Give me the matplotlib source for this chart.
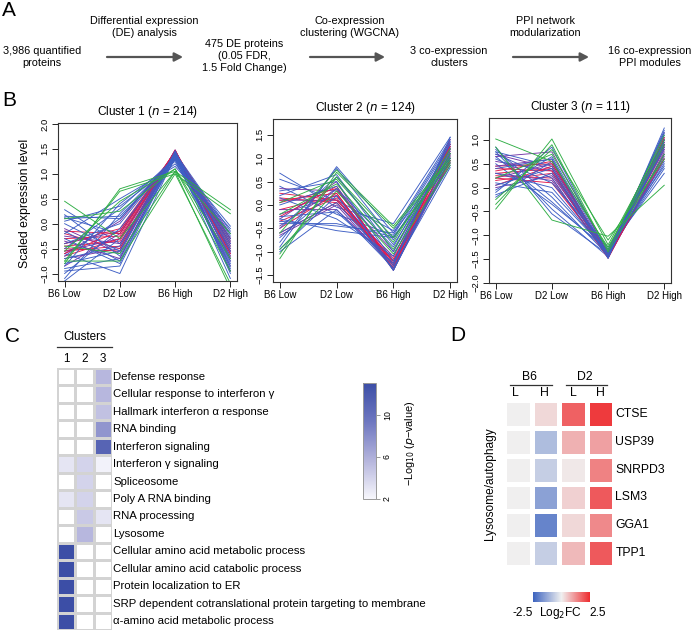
import numpy as np
import matplotlib
matplotlib.use("Agg")
import matplotlib.pyplot as plt
from matplotlib.colors import LinearSegmentedColormap, Normalize
from matplotlib.cm import ScalarMappable
from matplotlib.patches import FancyArrowPatch
from matplotlib.lines import Line2D

plt.rcParams['font.family'] = ['Liberation Sans', 'DejaVu Sans']

W, H = 696, 632

# ---------------- DATA ----------------
flow_steps = ["3,986 quantified\nproteins", "475 DE proteins\n(0.05 FDR,\n1.5 Fold Change)",
              "3 co-expression\nclusters", "16 co-expression\nPPI modules"]
flow_arrows = ["Differential expression\n(DE) analysis", "Co-expression\nclustering (WGCNA)",
               "PPI network\nmodularization"]

conditions = ["B6 Low", "D2 Low", "B6 High", "D2 High"]
cluster_titles = ["1", "2", "3"]
cluster_n = [214, 124, 111]

c1_green = [[-0.80, 0.70, 1.05, 0.28], [-0.75, 0.65, 1.00, 0.20], [-0.55, 0.45, 1.10, -0.95],
            [0.45, -0.30, 1.05, -1.30], [-0.75, -0.75, 1.00, -1.20], [0.10, 0.25, 1.10, -0.70],
            [-0.45, -0.60, 1.05, -0.20]]
c1_blue = [[0.28, -0.40, 1.30, -0.50], [0.15, 0.10, 1.35, -0.30], [0.12, -0.20, 1.45, -0.90],
           [-1.15, -0.30, 1.40, -0.60], [-1.10, 0.20, 1.30, -0.40], [-0.60, -1.00, 1.35, -0.80],
           [-0.90, -0.70, 1.45, -1.00], [0.05, 0.35, 1.20, -0.20], [-0.20, 0.50, 1.15, -0.10],
           [-0.95, -0.85, 1.40, -0.95], [0.00, -0.55, 1.45, -0.70], [-0.40, 0.00, 1.38, -0.35],
           [-0.70, -0.45, 1.42, -0.15], [0.18, -0.65, 1.30, -0.05], [-0.85, 0.40, 1.25, -0.75],
           [-0.30, -0.80, 1.45, -0.55], [-1.00, -0.10, 1.35, -1.10], [0.10, 0.15, 1.28, -0.85],
           [-0.50, 0.30, 1.32, -0.45], [-0.15, -0.75, 1.40, -0.25], [-0.65, 0.10, 1.30, -0.65],
           [-0.80, -0.55, 1.38, -0.30]]
c1_purple = [[-0.55, -0.30, 1.45, -0.60], [-0.40, -0.15, 1.42, -0.40], [-0.70, -0.50, 1.48, -0.75],
             [-0.25, -0.40, 1.40, -0.30], [-0.85, -0.20, 1.45, -0.85], [-0.10, -0.60, 1.45, -0.55],
             [-0.60, 0.05, 1.40, -0.20], [-0.35, -0.70, 1.47, -0.95]]
c1_red = [[-0.45, -0.35, 1.45, -0.50], [-0.30, -0.25, 1.43, -0.40], [-0.55, -0.45, 1.48, -0.65],
          [-0.20, -0.50, 1.46, -0.45], [-0.65, -0.30, 1.44, -0.55], [-0.40, -0.10, 1.42, -0.35],
          [-0.50, -0.55, 1.47, -0.70], [-0.15, -0.20, 1.44, -0.30], [-0.60, -0.15, 1.45, -0.60]]

c2_green = [[-1.15, 0.70, -0.50, 0.95], [-1.05, 0.60, -0.70, 0.90], [-0.60, 0.75, -0.45, 1.00],
            [-0.20, 0.45, -0.95, 1.10], [-0.95, 0.30, -1.05, 0.85], [0.05, 0.55, -0.80, 1.20]]
c2_blue = [[0.68, -0.05, -0.40, 1.45], [0.55, 0.10, -0.55, 1.40], [0.40, -0.20, -0.65, 1.30],
           [-0.90, 0.82, -0.60, 1.35], [-0.80, 0.78, -0.75, 1.25], [-0.35, -0.45, -0.60, 1.00],
           [-0.30, -0.55, -0.70, 0.95], [-0.40, -0.40, -0.68, 0.90], [-0.95, 0.20, -1.40, 1.10],
           [0.30, 0.50, -1.20, 0.85], [-0.60, 0.05, -1.30, 1.45], [0.15, -0.30, -1.10, 1.20],
           [-1.00, -0.10, -1.35, 0.80], [0.20, 0.65, -1.00, 1.15], [-0.70, 0.35, -0.90, 1.30],
           [-0.25, -0.15, -1.25, 1.35], [0.00, 0.40, -1.40, 1.00], [-0.50, 0.60, -0.85, 1.05]]
c2_purple = [[-0.20, 0.20, -1.20, 1.20], [-0.45, 0.35, -1.30, 1.10], [0.10, 0.10, -1.10, 1.25],
             [-0.65, 0.00, -1.35, 1.00], [0.35, 0.30, -1.00, 1.30], [-0.30, 0.50, -1.40, 0.95],
             [-0.10, -0.10, -1.25, 1.40]]
c2_red = [[-0.10, 0.20, -1.30, 1.10], [0.15, 0.05, -1.20, 1.20], [-0.35, 0.15, -1.35, 1.00],
          [0.05, 0.35, -1.25, 0.90], [-0.50, 0.25, -1.40, 1.15], [0.25, 0.10, -1.15, 1.05],
          [-0.25, 0.40, -1.30, 1.25], [-0.60, 0.05, -1.20, 0.95], [0.10, 0.25, -1.35, 1.30]]

c3_green = [[1.02, 0.55, -1.25, 0.90], [-0.45, 1.02, -1.20, 1.00], [0.85, -0.68, -1.02, 0.05],
            [-0.35, 0.90, -1.35, 0.70], [-0.25, 0.80, -1.10, 0.60], [0.20, 0.70, -1.30, 1.10]]
c3_blue = [[0.85, -0.55, -1.40, 0.50], [0.75, -0.45, -1.45, 0.60], [0.65, -0.30, -1.35, 0.40],
           [0.80, -0.20, -1.42, 0.70], [0.50, -0.35, -1.30, 0.30], [-0.20, 0.55, -1.45, 1.20],
           [-0.10, 0.85, -1.40, 1.15], [0.05, 0.40, -1.48, 1.25], [0.30, 0.00, -1.38, 0.90],
           [0.70, 0.20, -1.45, 1.00], [-0.15, 0.30, -1.30, 0.80], [0.60, 0.10, -1.25, 0.45],
           [0.40, 0.60, -1.48, 1.10], [0.10, -0.10, -1.35, 0.55], [0.75, 0.45, -1.42, 0.85],
           [-0.05, 0.65, -1.40, 0.95]]
c3_purple = [[0.55, 0.35, -1.45, 0.90], [0.20, 0.50, -1.40, 1.05], [0.70, 0.40, -1.48, 0.75],
             [0.00, 0.25, -1.35, 1.15], [0.45, 0.60, -1.45, 0.65], [0.30, 0.15, -1.42, 1.00],
             [0.65, 0.75, -1.38, 0.85]]
c3_red = [[0.30, 0.40, -1.42, 0.90], [0.15, 0.30, -1.45, 1.00], [0.45, 0.50, -1.40, 0.80],
          [0.25, 0.20, -1.48, 0.70], [0.05, 0.45, -1.38, 0.95], [0.40, 0.35, -1.45, 1.05],
          [0.35, 0.55, -1.43, 0.60], [0.20, 0.10, -1.40, 0.85]]

cluster_ylims = [(-1.15, 2.02), (-1.65, 1.84), (-2.0, 1.46)]
cluster_yticks = [[-1.0, -0.5, 0.0, 0.5, 1.0, 1.5, 2.0],
                  [-1.5, -1.0, -0.5, 0.0, 0.5, 1.0, 1.5],
                  [-2.0, -1.5, -1.0, -0.5, 0.0, 0.5, 1.0]]

terms = ["Defense response", "Cellular response to interferon \u03b3", "Hallmark interferon \u03b1 response",
         "RNA binding", "Interferon signaling", "Interferon \u03b3 signaling", "Spliceosome",
         "Poly A RNA binding", "RNA processing", "Lysosome",
         "Cellular amino acid metabolic process", "Cellular amino acid catabolic process",
         "Protein localization to ER", "SRP dependent cotranslational protein targeting to membrane",
         "\u03b1-amino acid metabolic process"]
enrich_c1 = [np.nan, np.nan, np.nan, np.nan, np.nan, 3.0, np.nan, 3.0, np.nan, np.nan, 13.0, 13.0, 13.0, 13.0, 13.0]
enrich_c2 = [np.nan, np.nan, np.nan, np.nan, np.nan, 4.0, 4.0, 4.0, 4.5, 5.5, np.nan, np.nan, np.nan, np.nan, np.nan]
enrich_c3 = [5.5, 5.5, 5.0, 7.5, 11.0, 2.3, np.nan, np.nan, 3.0, np.nan, np.nan, np.nan, np.nan, np.nan, np.nan]

genes = ["CTSE", "USP39", "SNRPD3", "LSM3", "GGA1", "TPP1"]
fc_b6_low = [0.0, 0.0, 0.0, 0.0, 0.0, 0.0]
fc_b6_high = [0.3, -0.9, -0.6, -1.4, -1.9, -0.6]
fc_d2_low = [1.8, 0.8, 0.1, 0.4, 0.3, 0.7]
fc_d2_high = [2.3, 1.0, 1.4, 1.9, 1.3, 1.9]

# ---------------- helpers ----------------
fig = plt.figure(figsize=(W / 100, H / 100), dpi=100)


def fx(x):
    return x / W


def fy(y):
    return 1 - y / H


def rect(x0, y0, x1, y1):
    return [x0 / W, 1 - y1 / H, (x1 - x0) / W, (y1 - y0) / H]


def ftext(x, y, s, **kw):
    kw.setdefault('ha', 'center')
    kw.setdefault('va', 'center')
    fig.text(fx(x), fy(y), s, **kw)


# ---------------- Panel A ----------------
ftext(9, 10, "A", fontsize=15)
step_x = [42, 244, 449, 650]
step_y = [57, 56, 57, 57]
for s, x, y in zip(flow_steps, step_x, step_y):
    ftext(x, y, s, fontsize=7.8, linespacing=1.2)
arrow_x = [(107, 183), (310, 385), (513, 589)]
arrow_lab_x = [144, 350, 545]
for (x0, x1), lx, lab in zip(arrow_x, arrow_lab_x, flow_arrows):
    ar = FancyArrowPatch((fx(x0), fy(57)), (fx(x1), fy(57)), transform=fig.transFigure,
                         arrowstyle='-|>,head_length=5,head_width=2.6', color='#555555', lw=1.6,
                         shrinkA=0, shrinkB=0)
    fig.patches.append(ar)
    ftext(lx, 27.5, lab, fontsize=7.8, linespacing=1.25)

# ---------------- Panel B ----------------
ftext(9, 101, "B", fontsize=15)
ax_rects = [(58, 123, 237, 281), (273, 119, 457, 282), (489, 118, 671, 283)]
col_green, col_blue, col_purple, col_red = '#2fae45', '#3d5ec4', '#7334a6', '#e3194b'
cluster_groups = [(c1_green, c1_blue, c1_purple, c1_red),
                  (c2_green, c2_blue, c2_purple, c2_red),
                  (c3_green, c3_blue, c3_purple, c3_red)]
xs = np.arange(1, 5)
for i, (r, groups) in enumerate(zip(ax_rects, cluster_groups)):
    ax = fig.add_axes(rect(*r))
    g, b, p, rd = groups
    # interleave colours (round robin) so no colour forms a solid band on top
    seq = []
    n = max(len(b), len(p), len(rd), len(g))
    for k in range(n):
        for lst, c in ((b, col_blue), (rd, col_red), (p, col_purple), (b, col_blue)):
            pass
        if k < len(rd):
            seq.append((rd[k], col_red))
        if k < len(b):
            seq.append((b[k], col_blue))
        if k < len(p):
            seq.append((p[k], col_purple))
    for prof, c in seq:
        ax.plot(xs, prof, color=c, lw=0.65)
    for prof in g:
        ax.plot(xs, prof, color=col_green, lw=0.65)
    ax.set_xlim(0.88, 4.12)
    ax.set_ylim(*cluster_ylims[i])
    ax.set_xticks(xs)
    ax.set_xticklabels(conditions, fontsize=7)
    ax.set_yticks(cluster_yticks[i])
    ax.set_yticklabels([f"{v:.1f}".replace('-', '\u2212') for v in cluster_yticks[i]],
                       fontsize=6.8, rotation=90, va='center')
    ax.tick_params(length=4, width=0.6, pad=2)
    for sp in ax.spines.values():
        sp.set_linewidth(0.8)
        sp.set_color('#333333')
    ax.set_title(f"Cluster {cluster_titles[i]} ($\\it{{n}}$ = {cluster_n[i]})", fontsize=8.6, pad=6)
ftext(25, 203, "Scaled expression level", fontsize=8.8, rotation=90)

# ---------------- Panel C ----------------
ftext(12, 337, "C", fontsize=15)
cmapC = LinearSegmentedColormap.from_list('c', ['#f7f7fc', '#b4b4dc', '#6e77c0', '#3c4ea6'])
cmapC.set_bad('white')
axC = fig.add_axes(rect(57, 368, 112, 630))
M = np.array([enrich_c1, enrich_c2, enrich_c3]).T
axC.pcolormesh(np.ma.masked_invalid(M), cmap=cmapC, vmin=2, vmax=13, edgecolors='#d3d3d3', linewidth=0.9)
axC.set_xlim(0, 3)
axC.set_ylim(len(terms), 0)
axC.axis('off')
for k, t in enumerate(terms):
    axC.text(3.08, k + 0.5, t, fontsize=8.2, va='center', ha='left')
ftext(84.5, 337, "Clusters", fontsize=8.4)
fig.add_artist(Line2D([fx(57), fx(112)], [fy(347), fy(347)], color='#333333', lw=0.9))
for k, cx in enumerate([66, 84.5, 102.5]):
    ftext(cx, 359, str(k + 1), fontsize=8.4)

caxC = fig.add_axes(rect(363, 383, 376, 499))
cbC = fig.colorbar(ScalarMappable(Normalize(2, 13), cmapC), cax=caxC)
cbC.set_ticks([2, 6, 10])
cbC.ax.set_yticklabels(['2', '6', '10'], rotation=90, va='center', fontsize=6.3)
cbC.ax.tick_params(length=3, width=0.6, pad=2, color='#888888')
cbC.outline.set_edgecolor('#999999')
cbC.outline.set_linewidth(0.7)
ftext(410, 443, "\u2212Log$_{10}$ ($\\it{p}$\u2212value)", fontsize=7.8, rotation=90)

# ---------------- Panel D ----------------
ftext(458, 335, "D", fontsize=15)
cmapD = LinearSegmentedColormap.from_list('d', ['#3c63bf', '#f0f0f0', '#ee2b2e'])
axD = fig.add_axes(rect(504, 400, 614, 567))
FC = np.array([fc_b6_low, fc_b6_high, fc_d2_low, fc_d2_high]).T
axD.pcolormesh(FC, cmap=cmapD, vmin=-2.5, vmax=2.5, edgecolors='white', linewidth=2.2)
axD.set_xlim(0, 4)
axD.set_ylim(len(genes), 0)
axD.axis('off')
for k, gname in enumerate(genes):
    axD.text(4.05, k + 0.5, gname, fontsize=8.8, va='center', ha='left')
ftext(529, 377, "B6", fontsize=8.8)
ftext(585, 377, "D2", fontsize=8.8)
fig.add_artist(Line2D([fx(510), fx(552)], [fy(385), fy(385)], color='#333333', lw=0.9))
fig.add_artist(Line2D([fx(566), fx(607)], [fy(385), fy(385)], color='#333333', lw=0.9))
for lx, lab in zip([515, 544, 573, 600], ["L", "H", "L", "H"]):
    ftext(lx, 393.5, lab, fontsize=8.8)
ftext(490, 484, "Lysosome/autophagy", fontsize=8.6, rotation=90)

caxD = fig.add_axes(rect(533, 592, 590, 602))
cbD = fig.colorbar(ScalarMappable(Normalize(-2.5, 2.5), cmapD), cax=caxD, orientation='horizontal')
cbD.set_ticks([])
cbD.outline.set_visible(False)
ftext(523, 613, "-2.5", fontsize=8.6)
ftext(560, 613, "Log$_2$FC", fontsize=8.6)
ftext(598, 613, "2.5", fontsize=8.6)

fig.savefig("out.png", dpi=100)
